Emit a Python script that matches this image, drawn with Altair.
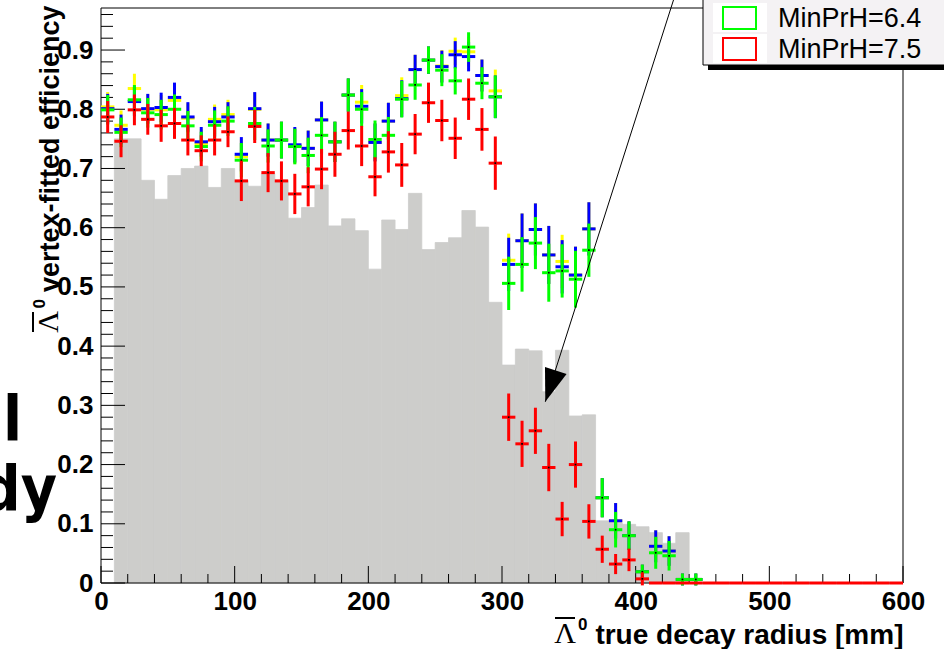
import altair as alt
import pandas as pd

# ---------------- data ----------------
bin_centers = [5, 15, 25, 35, 45, 55, 65, 75, 85, 95,
               105, 115, 125, 135, 145, 155, 165, 175, 185, 195,
               205, 215, 225, 235, 245, 255, 265, 275, 285, 295,
               305, 315, 325, 335, 345, 355, 365, 375, 385, 395,
               405, 415, 425, 435, 445]
red_tail_centers = [455, 465, 475, 485, 495, 505, 515, 525, 535, 545,
                    555, 565, 575, 585, 595]

eff_yellow = [0.804, 0.773, 0.835, 0.800, 0.799, 0.815, 0.785, 0.741, 0.783, 0.791,
              0.720, 0.800, 0.748, 0.748, 0.738, 0.734, 0.782, 0.745, 0.824, 0.812,
              0.744, 0.780, 0.823, 0.867, 0.883, 0.873, 0.898, 0.897, 0.857, 0.831,
              0.545, 0.578, 0.597, 0.554, 0.543, 0.520, 0.598, 0.144, 0.105, 0.080,
              0.019, 0.062, 0.054, 0.006, 0.006]
eff_blue = [0.801, 0.766, 0.813, 0.801, 0.803, 0.820, 0.787, 0.745, 0.779, 0.787,
            0.724, 0.801, 0.748, 0.748, 0.740, 0.734, 0.782, 0.745, 0.824, 0.805,
            0.744, 0.780, 0.818, 0.867, 0.883, 0.872, 0.892, 0.889, 0.857, 0.821,
            0.538, 0.578, 0.597, 0.554, 0.534, 0.520, 0.598, 0.144, 0.105, 0.080,
            0.019, 0.062, 0.054, 0.006, 0.006]
eff_green = [0.799, 0.761, 0.816, 0.794, 0.791, 0.800, 0.772, 0.737, 0.773, 0.780,
             0.714, 0.776, 0.738, 0.748, 0.737, 0.722, 0.756, 0.745, 0.824, 0.800,
             0.749, 0.756, 0.817, 0.841, 0.883, 0.866, 0.848, 0.905, 0.844, 0.821,
             0.506, 0.538, 0.574, 0.524, 0.527, 0.513, 0.562, 0.144, 0.090, 0.080,
             0.019, 0.051, 0.046, 0.006, 0.006]
eff_red = [0.787, 0.746, 0.799, 0.783, 0.772, 0.776, 0.748, 0.730, 0.748, 0.762,
           0.679, 0.771, 0.693, 0.679, 0.657, 0.669, 0.699, 0.724, 0.764, 0.738,
           0.686, 0.728, 0.706, 0.758, 0.811, 0.781, 0.751, 0.817, 0.766, 0.709,
           0.280, 0.235, 0.257, 0.195, 0.108, 0.200, 0.104, 0.057, 0.032, 0.039,
           0.007, 0.0, 0.0, 0.0, 0.0]
red_tail = [0.0] * 15

err_ybg = [0.025, 0.025, 0.025, 0.025, 0.025, 0.025, 0.025, 0.025, 0.025, 0.025,
           0.029, 0.028, 0.028, 0.031, 0.030, 0.030, 0.031, 0.034, 0.028, 0.029,
           0.032, 0.031, 0.031, 0.025, 0.023, 0.027, 0.023, 0.025, 0.027, 0.036,
           0.045, 0.046, 0.044, 0.049, 0.045, 0.048, 0.045, 0.033, 0.030, 0.024,
           0.012, 0.027, 0.025, 0.010, 0.010]
err_red = [0.027, 0.027, 0.026, 0.026, 0.027, 0.026, 0.026, 0.026, 0.026, 0.026,
           0.034, 0.028, 0.033, 0.033, 0.034, 0.033, 0.034, 0.038, 0.032, 0.034,
           0.033, 0.035, 0.037, 0.034, 0.034, 0.035, 0.035, 0.035, 0.036, 0.045,
           0.040, 0.039, 0.039, 0.040, 0.029, 0.039, 0.029, 0.023, 0.017, 0.019,
           0.011, 0.0, 0.0, 0.0, 0.0]

# grey reference histogram (10 mm bins, lower edges)
hist_lo = [10, 20, 30, 40, 50, 60, 70, 80, 90, 100,
           110, 120, 130, 140, 150, 160, 170, 180, 190, 200,
           210, 220, 230, 240, 250, 260, 270, 280, 290, 300,
           310, 320, 330, 340, 350, 360, 370, 380, 390, 400,
           410, 420, 430]
hist_val = [0.750, 0.750, 0.680, 0.648, 0.688, 0.700, 0.704, 0.668, 0.700, 0.680,
            0.670, 0.691, 0.680, 0.616, 0.634, 0.672, 0.603, 0.615, 0.595, 0.530,
            0.613, 0.597, 0.658, 0.563, 0.575, 0.583, 0.629, 0.601, 0.474, 0.368,
            0.395, 0.392, 0.323, 0.393, 0.282, 0.284, 0.105, 0.101, 0.099, 0.095,
            0.085, 0.067, 0.085]

legend_labels = ["MinPrH=6.4", "MinPrH=7.5"]
legend_colors = ["#00ff00", "#ff0000"]

# annotation arrow (data coordinates): tail above the frame, tip on the plot
arrow_tail = (430.5, 1.0)
arrow_tip = (332.4, 0.306)

x_ticks_major = [0, 100, 200, 300, 400, 500, 600]
y_ticks_major = [0, 0.1, 0.2, 0.3, 0.4, 0.5, 0.6, 0.7, 0.8, 0.9]

x_title = "true decay radius [mm]"
y_title = "vertex-fitted efficiency"
particle = "Λ"
particle_sup = "0"

# ---------------- layout / style ----------------
W, H = 802, 575
HALF = 5
YMAX = 0.971
FONT = "Liberation Sans"
SERIF = "Liberation Serif"
GREY = "#cdcdcb"

XS = alt.Scale(domain=[0, 600], nice=False, zero=False)
YS = alt.Scale(domain=[0, YMAX], nice=False, zero=False)

XAXIS = alt.Axis(values=x_ticks_major, labelFont=FONT, labelFontWeight="bold",
                 labelFontSize=26, labelColor="black", ticks=False, tickSize=0,
                 domain=False, grid=False, labelPadding=5, labelFlush=False,
                 labelOverlap=False, labelBound=False,
                 title=x_title, titleFont=FONT,
                 titleFontSize=28, titleFontWeight="bold", titleColor="black",
                 titleX=W, titleY=60, titleAlign="right",
                 titleBaseline="alphabetic", titleAnchor="end")
YAXIS = alt.Axis(values=y_ticks_major, format=".1~f", labelFont=FONT,
                 labelFontWeight="bold", labelFontSize=26, labelColor="black",
                 ticks=False, tickSize=0, domain=False, grid=False,
                 labelPadding=8, labelFlush=False, labelOverlap=False,
                 labelBound=False,
                 title=y_title, titleFont=FONT,
                 titleFontSize=27, titleFontWeight="bold", titleColor="black",
                 titleAngle=270, titleX=-43, titleY=-3, titleAlign="right",
                 titleBaseline="alphabetic", titleAnchor="end")


def X(field):
    return alt.X(field, scale=XS, axis=XAXIS)


def Y(field):
    return alt.Y(field, scale=YS, axis=YAXIS)


layers = []

# histogram
hdf = pd.DataFrame({"lo": hist_lo, "v": hist_val})
hdf["hi"] = hdf["lo"] + 2 * HALF
layers.append(
    alt.Chart(hdf).mark_rect(color=GREY, stroke=GREY, strokeWidth=0.8).encode(
        x=X("lo:Q"), x2="hi:Q", y=Y("v:Q"), y2=alt.datum(0))
)


# inward ticks
def yticks(vals, length):
    return alt.Chart(pd.DataFrame({"t": vals})).mark_rule(color="black", strokeWidth=1).encode(
        y=Y("t:Q"), x=alt.value(0), x2=alt.value(length))


def xticks(vals, length):
    return alt.Chart(pd.DataFrame({"t": vals})).mark_rule(color="black", strokeWidth=1).encode(
        x=X("t:Q"), y=alt.value(H), y2=alt.value(H - length))


y_minor = [round(0.02 * i, 2) for i in range(1, 49) if i % 5 != 0]
x_minor = [20 * i for i in range(1, 30) if i % 5 != 0]
layers += [yticks(y_ticks_major, 24), yticks(y_minor, 12),
           xticks(x_ticks_major, 17), xticks(x_minor, 9)]

# frame
one = pd.DataFrame({"a": [0]})
frame = alt.Chart(one).mark_rule(color="black", strokeWidth=1)
layers += [
    frame.encode(x=alt.value(0), x2=alt.value(W), y=alt.value(0)),
    frame.encode(x=alt.value(0), x2=alt.value(W), y=alt.value(H)),
    frame.encode(x=alt.value(0), y=alt.value(0), y2=alt.value(H)),
    frame.encode(x=alt.value(W), y=alt.value(0), y2=alt.value(H)),
]


# error-bar crosses
def crosses(centers, vals, errs, color):
    df = pd.DataFrame({"c": centers, "v": vals, "e": errs})
    df["lo"] = df["v"] - df["e"]
    df["hi"] = df["v"] + df["e"]
    df["l"] = df["c"] - HALF
    df["r"] = df["c"] + HALF
    base = alt.Chart(df)
    out = [
        base.mark_rule(color=color, strokeWidth=3).encode(
            x=X("c:Q"), y=Y("lo:Q"), y2="hi:Q"),
        base.mark_rule(color=color, strokeWidth=3).encode(
            x=X("l:Q"), x2="r:Q", y=Y("v:Q")),
    ]
    dots = df[df["v"] > 0]
    out.append(alt.Chart(dots).mark_square(color="black", size=3, opacity=1).encode(
        x=X("c:Q"), y=Y("v:Q")))
    return out


layers += crosses(bin_centers, eff_yellow, err_ybg, "#ffff00")
layers += crosses(bin_centers, eff_blue, err_ybg, "#0000ff")
layers += crosses(bin_centers, eff_green, err_ybg, "#00ff00")
layers += crosses(bin_centers + red_tail_centers, eff_red + red_tail,
                  err_red + [0.0] * len(red_tail), "#ff0000")

# arrow
adf = pd.DataFrame({"x": [arrow_tail[0]], "y": [arrow_tail[1]],
                    "x2": [arrow_tip[0]], "y2": [arrow_tip[1]]})
layers.append(alt.Chart(adf).mark_rule(color="black", strokeWidth=1).encode(
    x=X("x:Q"), y=Y("y:Q"), x2="x2:Q", y2="y2:Q"))
layers.append(alt.Chart(adf).mark_point(
    shape="M0,0L-0.69,-2L0.69,-2Z", filled=True, color="black", opacity=1,
    size=1089, angle=18.5, strokeWidth=0).encode(
    x=X("x2:Q"), y=Y("y2:Q")))

# particle symbol (anti-Lambda, overline + superscript 0) in the axis titles
layers += [
    # x title
    alt.Chart(one).mark_text(text=particle, font=SERIF, fontSize=30, color="black",
                             align="right", baseline="alphabetic").encode(
        x=alt.value(475), y=alt.value(635)),
    alt.Chart(one).mark_rule(color="black", strokeWidth=2).encode(
        x=alt.value(454), x2=alt.value(474), y=alt.value(610)),
    alt.Chart(one).mark_text(text=particle_sup, font=FONT, fontWeight="bold",
                             fontSize=17, color="black", align="left",
                             baseline="alphabetic").encode(
        x=alt.value(477), y=alt.value(622)),
    # y title (rotated)
    alt.Chart(one).mark_text(text=particle, font=SERIF, fontSize=30, color="black",
                             align="right", baseline="alphabetic", angle=270).encode(
        x=alt.value(-43), y=alt.value(303)),
    alt.Chart(one).mark_rule(color="black", strokeWidth=2).encode(
        x=alt.value(-68), y=alt.value(304), y2=alt.value(324)),
    alt.Chart(one).mark_text(text=particle_sup, font=FONT, fontWeight="bold",
                             fontSize=17, color="black", align="right",
                             baseline="alphabetic", angle=270).encode(
        x=alt.value(-56), y=alt.value(291)),
]

# legend (partially visible, top right)
layers += [
    alt.Chart(one).mark_rect(color="black").encode(
        x=alt.value(607), x2=alt.value(860), y=alt.value(-15), y2=alt.value(62)),
    alt.Chart(one).mark_rect(fill="#f4f2f4", stroke="black", strokeWidth=1).encode(
        x=alt.value(602), x2=alt.value(860), y=alt.value(-20), y2=alt.value(57)),
]
for i, (lab, col) in enumerate(zip(legend_labels, legend_colors)):
    y0 = -1 + 31 * i
    layers += [
        alt.Chart(one).mark_rect(fill="white").encode(
            x=alt.value(612), x2=alt.value(666), y=alt.value(y0 - 4), y2=alt.value(y0 + 25)),
        alt.Chart(one).mark_rect(fill="white", stroke=col, strokeWidth=2).encode(
            x=alt.value(622), x2=alt.value(655), y=alt.value(y0), y2=alt.value(y0 + 22)),
        alt.Chart(one).mark_text(text=lab, font=FONT, fontSize=27, color="black",
                                 align="left", baseline="alphabetic").encode(
            x=alt.value(677), y=alt.value(19 + 31 * i)),
    ]

# slide text cut off at the left edge
SLIDE_FONT = "DejaVu Sans Condensed, DejaVu Sans"
layers += [
    alt.Chart(one).mark_text(text="l", font=SLIDE_FONT, fontWeight="bold",
                             fontSize=62, color="black", align="right",
                             baseline="alphabetic").encode(
        x=alt.value(-79), y=alt.value(432)),
    alt.Chart(one).mark_text(text="dy", font=SLIDE_FONT, fontWeight="bold",
                             fontSize=62, color="black", align="right",
                             baseline="alphabetic").encode(
        x=alt.value(-44), y=alt.value(502)),
]

chart = alt.layer(*layers).properties(
    width=W, height=H,
    padding={"left": 101, "top": 8, "right": 41, "bottom": 66},
    autosize=alt.AutoSizeParams(type="none"),
    background="white",
).configure_view(stroke="transparent")

chart.save("out.html", embed_options={"renderer": "svg", "actions": False})
